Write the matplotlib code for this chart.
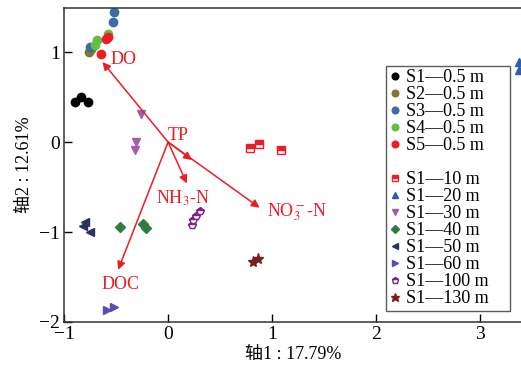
import matplotlib
matplotlib.use("Agg")
import matplotlib.pyplot as plt
from matplotlib.lines import Line2D

plt.rcParams['font.family'] = ['Liberation Serif', 'Noto Sans CJK SC']
plt.rcParams['axes.unicode_minus'] = True
plt.rcParams['mathtext.fontset'] = 'stix'

# ---- data ----
s1_05_x = [-0.89, -0.84, -0.77]
s1_05_y = [0.44, 0.50, 0.45]
s2_05_x = [-0.76, -0.74]
s2_05_y = [1.00, 1.03]
s3_05_x = [-0.52, -0.53, -0.75]
s3_05_y = [1.44, 1.33, 1.06]
s4_05_x = [-0.70, -0.68, -0.58]
s4_05_y = [1.08, 1.13, 1.20]
s5_05_x = [-0.64, -0.60, -0.58]
s5_05_y = [0.98, 1.15, 1.17]
s1_10_x = [0.79, 0.87, 1.08]
s1_10_y = [-0.07, -0.02, -0.09]
s1_20_x = [3.37, 3.37]
s1_20_y = [0.89, 0.80]
s1_30_x = [-0.26, -0.31, -0.32]
s1_30_y = [0.31, 0.00, -0.09]
s1_40_x = [-0.46, -0.24, -0.21]
s1_40_y = [-0.94, -0.91, -0.96]
s1_50_x = [-0.80, -0.75, -0.82]
s1_50_y = [-0.89, -1.00, -0.93]
s1_60_x = [-0.59, -0.52]
s1_60_y = [-1.87, -1.83]
s1_100_x = [0.31, 0.27, 0.24, 0.23]
s1_100_y = [-0.77, -0.82, -0.87, -0.92]
s1_130_x = [0.82, 0.86]
s1_130_y = [-1.33, -1.30]

arrow_names = ['DO', 'TP', 'NH$_3$-N', 'NO$_3^-$-N', 'DOC']
arrow_x = [-0.63, 0.23, 0.18, 0.88, -0.48]
arrow_y = [0.89, -0.20, -0.46, -0.73, -1.42]
label_x = [-0.55, 0.00, 0.14, 0.95, -0.46]
label_y = [0.92, 0.07, -0.62, -0.78, -1.58]
label_ha = ['left', 'left', 'center', 'left', 'center']

xticks = [-1, 0, 1, 2, 3]
yticks = [-2, -1, 0, 1]
xlabel = '轴1 : 17.79%'
ylabel = '轴2 : 12.61%'

fig = plt.figure(figsize=(5.21, 3.71), dpi=100)
ax = fig.add_axes([64/521, 49/371, 458/521, 314/371])
ax.set_xlim(-1, 3.4)
ax.set_ylim(-2, 1.49)

ms = 6
series = [
    (s1_05_x, s1_05_y, 'S1—0.5 m', dict(marker='o', color='black')),
    (s2_05_x, s2_05_y, 'S2—0.5 m', dict(marker='o', color='#7d7838')),
    (s3_05_x, s3_05_y, 'S3—0.5 m', dict(marker='o', color='#3b6ca6')),
    (s4_05_x, s4_05_y, 'S4—0.5 m', dict(marker='o', color='#62bf40')),
    (s5_05_x, s5_05_y, 'S5—0.5 m', dict(marker='o', color='#ee1c25')),
    None,
    (s1_10_x, s1_10_y, 'S1—10 m', dict(marker='s', color='#ee1c25', fillstyle='top', markerfacecoloralt='white')),
    (s1_20_x, s1_20_y, 'S1—20 m', dict(marker='^', color='#2b5db3')),
    (s1_30_x, s1_30_y, 'S1—30 m', dict(marker='v', color='#a15bb2')),
    (s1_40_x, s1_40_y, 'S1—40 m', dict(marker='D', color='#2f7d40', ms=5)),
    (s1_50_x, s1_50_y, 'S1—50 m', dict(marker='<', color='#2c3165')),
    (s1_60_x, s1_60_y, 'S1—60 m', dict(marker='>', color='#5a4db2')),
    (s1_100_x, s1_100_y, 'S1—100 m', dict(marker='p', color='#7a2585', fillstyle='top', markerfacecoloralt='white')),
    (s1_130_x, s1_130_y, 'S1—130 m', dict(marker='*', color='#7b1c1f', ms=8)),
]

handles = []
labels = []
for s in series:
    if s is None:
        handles.append(Line2D([], [], linestyle='none', marker=None))
        labels.append('')
        continue
    x, y, lab, kw = s
    kw = dict(kw)
    m = kw.pop('ms', ms)
    h, = ax.plot(x, y, linestyle='none', markersize=m, clip_on=True, **kw)
    handles.append(h)
    labels.append(lab)

red = '#ee1c25'
for name, ex, ey, lx, ly, ha in zip(arrow_names, arrow_x, arrow_y, label_x, label_y, label_ha):
    ax.annotate('', xy=(ex, ey), xytext=(0, 0),
                arrowprops=dict(arrowstyle='-|>', color=red, lw=1.1,
                                mutation_scale=12, shrinkA=0, shrinkB=0))
    ax.text(lx, ly, name, color=red, fontsize=13, ha=ha, va='center')

leg = ax.legend(handles, labels, loc='upper left',
                bbox_to_anchor=(322/458, 1 - 61/314, 124/458, 0.01), mode='expand',
                fontsize=13, frameon=True, fancybox=False, edgecolor='#333333',
                handlelength=0.6, handletextpad=0.3, labelspacing=0.0,
                borderpad=0.2, borderaxespad=0, markerscale=0.8)
leg.get_frame().set_linewidth(1.0)

ax.set_xticks(xticks)
ax.set_yticks(yticks)
ax.tick_params(direction='in', length=6, width=1, labelsize=14, pad=3)
ax.spines['right'].set_visible(False)
for sp in ['left', 'bottom', 'top']:
    ax.spines[sp].set_linewidth(1.1)
    ax.spines[sp].set_color('#333333')

ax.set_xlabel(xlabel, fontsize=13, labelpad=2)
ax.set_ylabel(ylabel, fontsize=13, labelpad=4)

fig.savefig('out.png', dpi=100)
